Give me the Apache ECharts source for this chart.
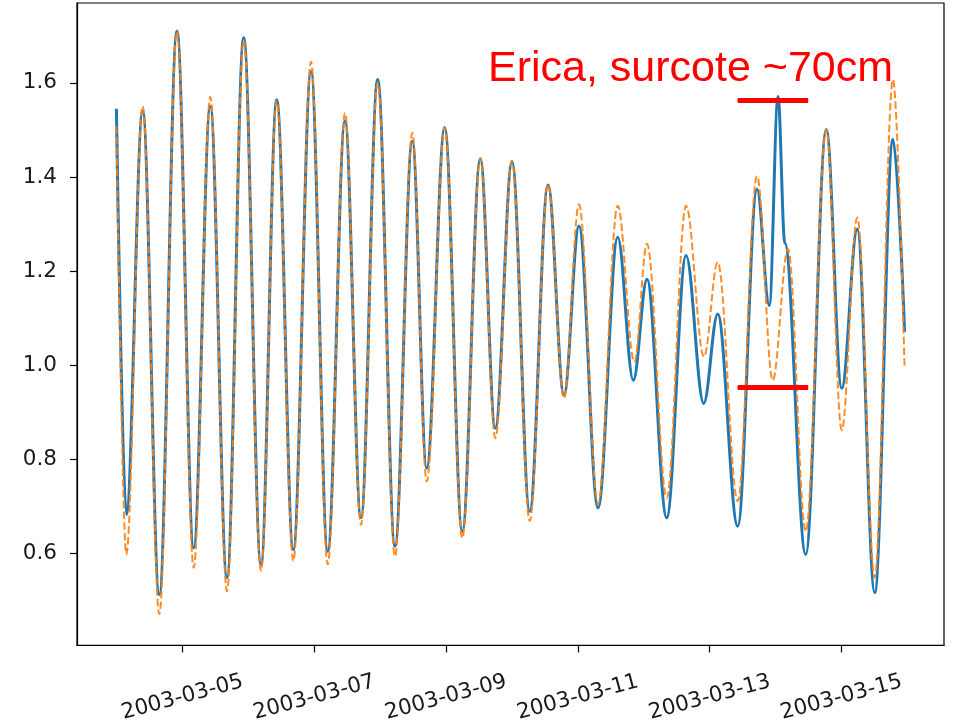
<!DOCTYPE html>
<html><head><meta charset="utf-8">
<script src="https://cdn.jsdelivr.net/npm/echarts@6/dist/echarts.min.js"></script>
<style>html,body{margin:0;padding:0;background:#fff}#c{width:954px;height:725px}</style>
</head><body><div id="c"></div>
<script>
// Hours since 2003-03-04 00:00 of the turning points
const obsHours = [0, 3.6, 9.57, 15.62, 22.06, 28.14, 34.19, 40.27, 46.35, 52.65, 58.37, 64.41, 70.86, 76.94, 83.24, 89.06, 95.14, 101.44, 107.74, 112.99, 119.54, 125.95, 132.5, 137.97, 144.05, 150.49, 157.16, 162.98, 168.44, 175.36, 182.54, 188.22, 193.2, 200.38, 207.41, 213.85, 218.95, 226.23, 233.26, 237.74, 240.91, 243.4, 250.99, 258.49, 264.1, 269.78, 276.12, 282.78, 287];
const obsValues = [1.545, 0.683, 1.54, 0.513, 1.71, 0.612, 1.55, 0.549, 1.696, 0.577, 1.564, 0.608, 1.624, 0.605, 1.519, 0.676, 1.607, 0.616, 1.476, 0.781, 1.505, 0.647, 1.439, 0.866, 1.433, 0.69, 1.383, 0.937, 1.296, 0.697, 1.272, 0.968, 1.183, 0.676, 1.233, 0.919, 1.109, 0.658, 1.374, 1.127, 1.571, 1.26, 0.598, 1.501, 0.951, 1.289, 0.517, 1.48, 1.071];
const predHours = [0, 3.6, 9.57, 15.62, 22.06, 28.14, 34.19, 40.27, 46.35, 52.65, 58.37, 64.41, 70.86, 76.94, 83.24, 89.06, 95.14, 101.44, 107.74, 112.99, 119.54, 125.95, 132.5, 137.97, 144.05, 150.49, 157.16, 162.98, 168.44, 175.36, 182.54, 188.58, 193.2, 200.38, 207.41, 213.96, 218.95, 226.23, 233.26, 238.97, 244.55, 250.99, 258.49, 264.1, 269.78, 276.12, 282.78, 287];
const predValues = [1.508, 0.598, 1.55, 0.471, 1.71, 0.57, 1.57, 0.52, 1.69, 0.563, 1.562, 0.584, 1.645, 0.577, 1.536, 0.661, 1.6, 0.594, 1.494, 0.753, 1.505, 0.633, 1.44, 0.845, 1.433, 0.669, 1.385, 0.93, 1.342, 0.705, 1.339, 1.007, 1.258, 0.718, 1.339, 1.018, 1.219, 0.711, 1.402, 0.968, 1.247, 0.647, 1.501, 0.862, 1.314, 0.549, 1.607, 0.993];
const xTickHours = [24, 72, 120, 168, 216, 264];
const xTickLabels = ['2003-03-05', '2003-03-07', '2003-03-09', '2003-03-11', '2003-03-13', '2003-03-15'];
const yTicks = [0.6, 0.8, 1.0, 1.2, 1.4, 1.6];
const annotText = 'Erica, surcote ~70cm';
const annotLevels = [1.564, 0.954];
const annotSpan = [226.2, 251.9];

const chart = echarts.init(document.getElementById('c'), null, {renderer: 'canvas'});
const tickFont = {fontFamily: 'DejaVu Sans', fontSize: 21.5, color: '#1a1a1a'};
chart.setOption({
  animation: false,
  backgroundColor: '#fff',
  grid: {left: 77, right: 10, top: 3, bottom: 77, show: true, borderColor: '#000', borderWidth: 1.2, backgroundColor: 'transparent'},
  xAxis: {
    type: 'value', min: -14.35, max: 301.35,
    splitLine: {show: false},
    axisLine: {show: true, onZero: false, lineStyle: {color: '#000', width: 1.2}},
    axisTick: {show: true, length: 7, lineStyle: {color: '#000', width: 1.2}, customValues: xTickHours},
    axisLabel: Object.assign({
      customValues: xTickHours, rotate: 15, align: 'center', verticalAlign: 'middle', margin: 52,
      formatter: v => { const i = xTickHours.indexOf(v); return i >= 0 ? xTickLabels[i] : ''; }
    }, tickFont)
  },
  yAxis: {
    type: 'value', min: 0.4047, max: 1.7697,
    splitLine: {show: false},
    axisLine: {show: true, onZero: false, lineStyle: {color: '#000', width: 1.2}},
    axisTick: {show: true, length: 7, lineStyle: {color: '#000', width: 1.2}, customValues: yTicks},
    axisLabel: Object.assign({customValues: yTicks, margin: 20, formatter: v => v.toFixed(1)}, tickFont)
  },
  series: [
    {
      type: 'line', name: 'obs', z: 2,
      data: obsHours.map((h, i) => [h, obsValues[i]]),
      showSymbol: false, symbol: 'none', smooth: 0.36, smoothMonotone: 'x',
      lineStyle: {color: '#1f77b4', width: 3}
    },
    {
      type: 'line', name: 'pred', z: 3,
      data: predHours.map((h, i) => [h, predValues[i]]),
      showSymbol: false, symbol: 'none', smooth: 0.36, smoothMonotone: 'x',
      lineStyle: {color: '#ff7f0e', width: 2, type: [7.5, 3.2], opacity: 0.9},
      markLine: {
        silent: true, symbol: 'none', label: {show: false},
        lineStyle: {color: '#ff0000', width: 5, type: 'solid', opacity: 1},
        data: annotLevels.map(v => [{coord: [annotSpan[0], v]}, {coord: [annotSpan[1], v]}])
      }
    }
  ],
  graphic: [{
    type: 'text', x: 488, y: 69, z: 10,
    style: {text: annotText, font: '43px "Liberation Sans"', fill: '#ff0000', align: 'left', verticalAlign: 'middle'}
  }]
});
</script>
</body></html>
